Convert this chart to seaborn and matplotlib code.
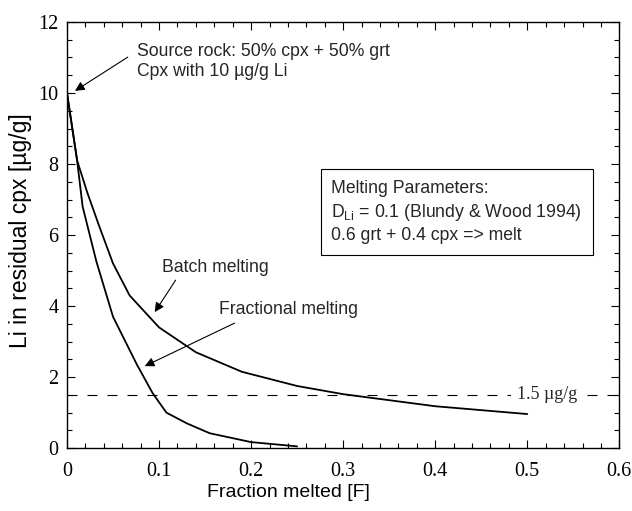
import numpy as np
import pandas as pd
import matplotlib
matplotlib.use("Agg")
import matplotlib.pyplot as plt
from matplotlib.ticker import MultipleLocator, FuncFormatter
import seaborn as sns

sns.set_theme(style="ticks")
plt.rcParams['font.family'] = ['Liberation Sans', 'DejaVu Sans']

# batch melting curve
batch_F = [0, 0.011, 0.022, 0.035, 0.05, 0.068, 0.1, 0.14, 0.19, 0.25, 0.3, 0.4, 0.5]
batch_Li = [10, 8.1, 7.2, 6.25, 5.2, 4.3, 3.4, 2.7, 2.15, 1.75, 1.52, 1.18, 0.96]

# fractional melting curve
frac_F = [0, 0.011, 0.017, 0.032, 0.05, 0.076, 0.093, 0.108, 0.13, 0.155, 0.2, 0.25]
frac_Li = [10, 8.1, 6.8, 5.25, 3.7, 2.35, 1.55, 1.0, 0.7, 0.42, 0.17, 0.05]

threshold = 1.5

fig = plt.figure(figsize=(6.32, 5.11), dpi=100)
ax = fig.add_axes([0.106, 0.123, 0.874, 0.834])

sns.lineplot(x=batch_F, y=batch_Li, ax=ax, color="black", lw=1.3,
             sort=False, estimator=None)
sns.lineplot(x=frac_F, y=frac_Li, ax=ax, color="black", lw=1.3,
             sort=False, estimator=None)
ax.axhline(threshold, color="black", lw=0.8, dashes=(9, 9))

ax.set_xlim(0, 0.6)
ax.set_ylim(0, 12)
ax.xaxis.set_major_locator(MultipleLocator(0.1))
ax.xaxis.set_minor_locator(MultipleLocator(0.02))
ax.yaxis.set_major_locator(MultipleLocator(2))
ax.yaxis.set_minor_locator(MultipleLocator(0.5))
fmt = FuncFormatter(lambda v, p: "0" if abs(v) < 1e-9 else f"{v:g}")
ax.xaxis.set_major_formatter(fmt)
ax.yaxis.set_major_formatter(fmt)
ax.tick_params(which="both", direction="in", top=True, right=True, color="black",
               labelcolor="black", labelsize=14.5)
ax.tick_params(which="major", length=6, width=0.8)
ax.tick_params(which="minor", length=3.5, width=0.8)
ax.tick_params(axis="x", pad=10)
ax.tick_params(axis="y", pad=6)
for lab in ax.get_xticklabels() + ax.get_yticklabels():
    lab.set_family("Liberation Serif")
for s in ax.spines.values():
    s.set_color("black")
    s.set_linewidth(1.0)

ax.set_xlabel("Fraction melted [F]", fontsize=14, color="black")
ax.xaxis.set_label_coords(0.40, -0.085)
ax.set_ylabel("Li in residual cpx [µg/g]", fontsize=16.5, color="black")
ax.yaxis.set_label_coords(-0.063, 0.51)

fs = 12.7
arrow = dict(arrowstyle="-|>", color="black", lw=0.8, mutation_scale=14,
             shrinkA=0, shrinkB=0)
ax.text(0.0758, 10.89, "Source rock: 50% cpx + 50% grt\nCpx with 10 µg/g Li",
        fontsize=fs, va="center", ha="left", linespacing=1.2)
ax.annotate("", xy=(0.0087, 10.06), xytext=(0.066, 11.01), arrowprops=arrow)
ax.text(0.103, 5.1, "Batch melting", fontsize=fs, ha="left", va="center")
ax.annotate("", xy=(0.0953, 3.83), xytext=(0.118, 4.73), arrowprops=arrow)
ax.text(0.165, 3.89, "Fractional melting", fontsize=fs, ha="left", va="center")
ax.annotate("", xy=(0.0845, 2.31), xytext=(0.182, 3.52), arrowprops=arrow)

ax.text(0.287, 6.65, "Melting Parameters:\n$\\mathregular{D_{Li}}$ = 0.1 (Blundy & Wood 1994)\n0.6 grt + 0.4 cpx => melt",
        fontsize=fs, ha="left", va="center", linespacing=1.33,
        bbox=dict(boxstyle="square,pad=0.6", fc="white", ec="black", lw=0.8))

ax.text(0.522, threshold, "1.5 µg/g", family="Liberation Serif", fontsize=13,
        ha="center", va="center",
        bbox=dict(boxstyle="square,pad=0.35", fc="white", ec="none"))

fig.savefig("out.png", dpi=100)
